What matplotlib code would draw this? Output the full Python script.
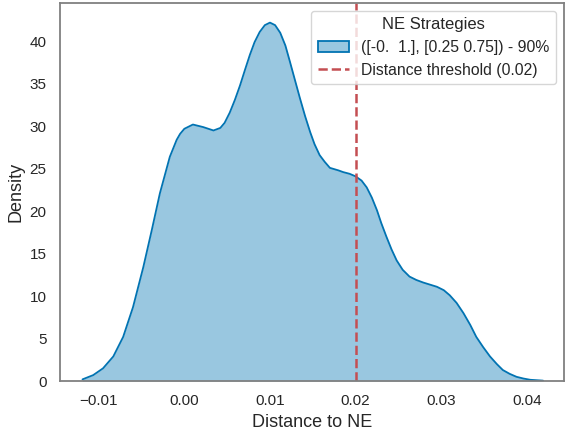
import matplotlib
matplotlib.use("Agg")
import matplotlib.pyplot as plt
from matplotlib.patches import Patch
import seaborn as sns

# density curve (distance to NE -> density)
dist = [-0.0119, -0.01065, -0.0095, -0.0083, -0.00715, -0.0060, -0.0048, -0.0038,
        -0.00286, -0.0017, -0.0009, -0.0005, 0.0000, 0.0010, 0.0022, 0.0034,
        0.0042, 0.0047, 0.0053, 0.0059, 0.0065, 0.0071, 0.00765, 0.0082,
        0.0088, 0.0094, 0.0100, 0.0106, 0.0112, 0.0118, 0.01233, 0.0129,
        0.0135, 0.0141, 0.0147, 0.0152, 0.0158, 0.0164, 0.0170, 0.0180,
        0.01855, 0.0193, 0.0200, 0.0207, 0.0213, 0.0219, 0.0225, 0.0230,
        0.0236, 0.0242, 0.0248, 0.0255, 0.0263, 0.0271, 0.0279, 0.0287,
        0.0295, 0.0303, 0.0310, 0.0318, 0.0326, 0.0334, 0.0341, 0.0349,
        0.0357, 0.0365, 0.0372, 0.0380, 0.0388, 0.0396, 0.0404, 0.0419]
density = [0.2, 0.7, 1.5, 2.9, 5.2, 8.7, 13.4, 17.8,
           22.1, 26.4, 28.4, 29.1, 29.7, 30.2, 29.9, 29.5,
           29.8, 30.4, 31.6, 33.1, 34.8, 36.7, 38.4, 39.9,
           41.1, 41.9, 42.2, 41.9, 41.0, 39.5, 37.6, 35.5,
           33.3, 31.2, 29.3, 27.9, 26.6, 25.8, 25.1, 24.8,
           24.6, 24.4, 24.1, 23.6, 22.8, 21.6, 20.1, 18.6,
           17.0, 15.5, 14.2, 13.1, 12.3, 11.9, 11.6, 11.35,
           11.1, 10.7, 10.1, 9.2, 8.0, 6.6, 5.2, 4.0,
           2.9, 2.0, 1.3, 0.85, 0.5, 0.3, 0.15, 0.05]

strategy_label = "([-0.  1.], [0.25 0.75]) - 90%"
threshold = 0.02

sns.set_theme(style="white")
plt.rcParams['font.family'] = ['Liberation Sans', 'DejaVu Sans']

blue = "#0173b2"
red = "#c44e52"

fig = plt.figure(figsize=(5.65, 4.37), dpi=100)
ax = fig.add_axes([0.106, 0.128, 0.892, 0.865])

ax.fill_between(dist, density, color=blue, alpha=0.4, linewidth=0)
ax.plot(dist, density, color=blue, linewidth=1.3, solid_joinstyle="round")
h1 = Patch(facecolor=(0.6, 0.78, 0.88), edgecolor=blue, linewidth=1.3, label=strategy_label)
h2 = ax.axvline(threshold, color=red, linestyle="--", linewidth=1.8,
                label=f"Distance threshold ({threshold})")

ax.set_xlim(-0.01454, 0.04433)
ax.set_ylim(0, 44.5)
ax.set_xticks([-0.01, 0.0, 0.01, 0.02, 0.03, 0.04])
ax.set_yticks(range(0, 41, 5))
ax.tick_params(labelsize=11, colors=".15")
ax.set_xlabel("Distance to NE", fontsize=13, color=".15")
ax.set_ylabel("Density", fontsize=13, color=".15")
for s in ax.spines.values():
    s.set_color("#808080")
    s.set_linewidth(1.3)

leg = ax.legend(handles=[h1, h2], title="NE Strategies", loc="upper right",
                fontsize=11.3, title_fontsize=12, framealpha=0.8)

fig.savefig("out.png", dpi=100)
